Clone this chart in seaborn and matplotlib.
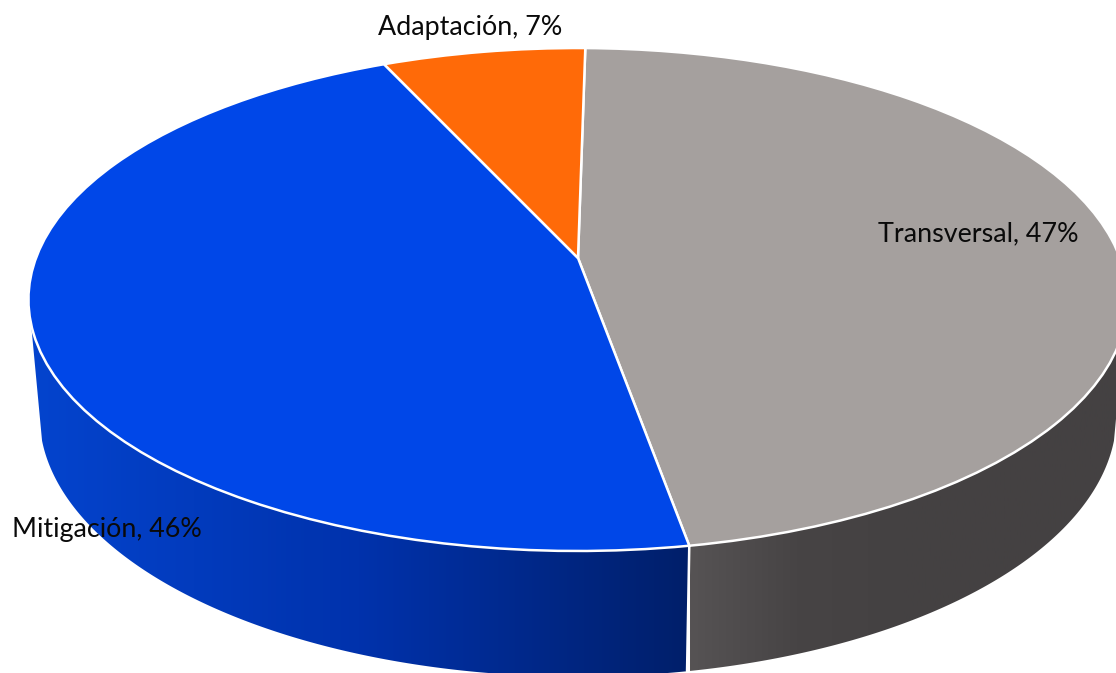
import numpy as np
import matplotlib
matplotlib.use('Agg')
import matplotlib.pyplot as plt
import seaborn as sns
from matplotlib.patches import Polygon
from matplotlib.transforms import Transform

categories = ['Transversal', 'Mitigación', 'Adaptación']
shares = [47, 46, 7]

top_colors = ['#A5A09E', '#0047E8', '#FF6A08']
wall_colors = [['#565354', '#474445', '#444142', '#444142', '#444142'],
               ['#0444CE', '#0032AC', '#001F6A'], None]
wall_ranges = [(690, 1116), (28, 690), None]
label_pos = [(978, 234), (107, 529), (470, 27)]

# perspective of the disc, in pixels of the 1116x673 picture
apex_x, apex_y = 578, 258
rx, ry, tilt = 542, 244.6, 0.165
start_deg = 0.9
depth_x, depth_y, depth_drop = 0.98, 1.04, 114
# rim angles where the side wall silhouette leaves the top face
wall_from, wall_to = 105, 255


class DiscTilt(Transform):
    input_dims = output_dims = 2
    is_affine = False
    has_inverse = False

    def transform_non_affine(self, values):
        u, v = values[:, 0], values[:, 1]
        w = 1 + tilt * v
        return np.column_stack([apex_x + rx * u / w, apex_y - ry * v / w])


def rim(deg, low=False):
    a = np.radians(deg)
    xy = DiscTilt().transform_non_affine(np.column_stack([np.sin(a), np.cos(a)]))
    if low:
        xy = np.column_stack([apex_x + (xy[:, 0] - apex_x) * depth_x,
                              apex_y + (xy[:, 1] - apex_y) * depth_y + depth_drop])
    return xy


sns.set_theme(style='white')
plt.rcParams['font.family'] = ['Lato', 'DejaVu Sans']

fig = plt.figure(figsize=(11.16, 6.73), dpi=100)
ax = fig.add_axes([0, 0, 1, 1])

wedges, _ = ax.pie(shares, colors=top_colors, startangle=90 - start_deg, counterclock=False,
                   wedgeprops={'edgecolor': 'white', 'linewidth': 1.8})
tilted = DiscTilt() + ax.transData
for w in wedges:
    w.set_transform(tilted)
    w.set_zorder(3)

# side walls, only the part of the rim that faces the viewer
edges = start_deg + np.cumsum([0] + shares) * 3.6
for i in range(len(shares)):
    if wall_colors[i] is None:
        continue
    deg = np.linspace(max(edges[i], wall_from), min(edges[i + 1], wall_to), 200)
    outline = np.vstack([rim(deg), rim(deg[::-1], low=True)])
    poly = Polygon(outline, closed=True, facecolor='none', edgecolor='none')
    ax.add_patch(poly)
    cmap = sns.blend_palette(wall_colors[i], as_cmap=True)
    x0, x1 = wall_ranges[i]
    img = ax.imshow(np.linspace(0, 1, 256)[None, :], cmap=cmap, aspect='auto',
                    extent=(x0, x1, 673, 0), zorder=2)
    img.set_clip_path(poly)

seam = np.vstack([rim(np.array([edges[1]])), rim(np.array([edges[1]]), low=True)])
ax.plot(seam[:, 0], seam[:, 1], color='white', lw=1.8, zorder=2.5)

for name, share, (x, y) in zip(categories, shares, label_pos):
    ax.text(x, y, f'{name}, {share}%', ha='center', va='center', fontsize=19.4,
            color='#0A0A0A', zorder=5)

ax.set_aspect('auto')
ax.set_xlim(0, 1116)
ax.set_ylim(673, 0)
ax.axis('off')

fig.savefig('out.png', dpi=100, facecolor='white')
